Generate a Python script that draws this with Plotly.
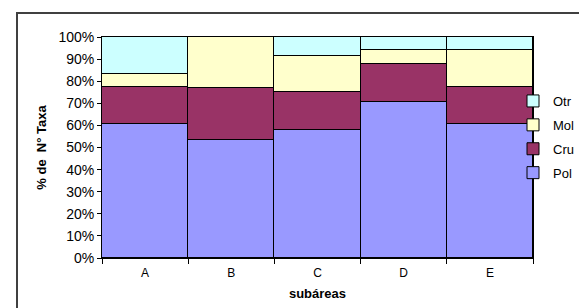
import plotly.graph_objects as go

categories = ["A", "B", "C", "D", "E"]
pol = [60.5, 53.4, 58.0, 70.6, 60.6]
cru = [16.9, 23.6, 17.0, 17.2, 16.8]
mol = [5.7, 23.0, 16.5, 6.4, 16.8]
otr = [16.9, 0.0, 8.5, 5.8, 5.8]
series = [("Pol", pol, "#9999FF"), ("Cru", cru, "#993366"),
          ("Mol", mol, "#FFFFCC"), ("Otr", otr, "#CCFFFF")]

fig = go.Figure()
for i, (name, vals, col) in enumerate(series):
    fig.add_trace(go.Bar(x=categories, y=vals, name=name, legendgroup=name,
                         legendrank=1000 - i,
                         marker=dict(color=col, line=dict(color="black", width=1))))

W, H = 587, 308
L, R, T, B = 94, 62, 29, 58
pw, ph = W - L - R, H - T - B

fig.update_layout(
    width=W, height=H, barmode="stack", bargap=0,
    margin=dict(l=L, r=R, t=T, b=B, autoexpand=False),
    paper_bgcolor="white", plot_bgcolor="white",
    font=dict(family="Liberation Sans, Arial, sans-serif", size=12, color="black"),
    showlegend=True,
    legend=dict(traceorder="grouped", x=(505 - L) / pw, xanchor="left",
                y=(H - B - 78) / ph, yanchor="top",
                font=dict(size=13), tracegroupgap=4, itemwidth=30,
                bgcolor="rgba(0,0,0,0)"),
    xaxis=dict(title=dict(text="<b>subáreas</b>", standoff=9, font=dict(size=13)),
               showline=True, linecolor="black", linewidth=1, mirror=True,
               ticks="outside", tickson="boundaries", ticklen=5, tickcolor="black",
               tickfont=dict(size=12), ticklabelstandoff=4),
    yaxis=dict(title=dict(text="<b>% de  N° Taxa</b>", standoff=8, font=dict(size=13)),
               range=[0, 100], dtick=10, ticksuffix="%",
               showline=True, linecolor="black", linewidth=1, mirror=True,
               ticks="outside", ticklen=4, tickcolor="black", showgrid=False,
               tickfont=dict(size=14)),
    shapes=[dict(type="rect", xref="paper", yref="paper",
                 x0=(9 - L) / pw, x1=(590 - L) / pw,
                 y0=(H - B - 306) / ph, y1=(H - B - 5) / ph,
                 line=dict(color="#404040", width=2), layer="below")],
)

fig.write_html("out.html")
